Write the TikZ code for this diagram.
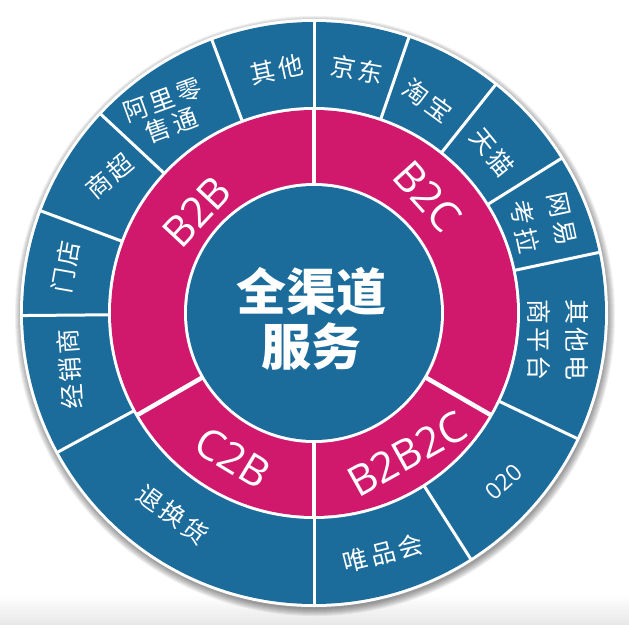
\documentclass[tikz,border=0pt]{standalone}
\usepackage{fontspec}
\usepackage{tikz}
\usetikzlibrary{calc,positioning}
\newfontfamily\cjk[LetterSpace=12]{Noto Sans CJK SC}
\newfontfamily\cjkhub{Noto Sans CJK SC}
\newfontfamily\latin{Open Sans}
\definecolor{chblue}{HTML}{1B6B9B}
\definecolor{chpink}{HTML}{D0196D}
\tikzstyle{outerlabel}=[
  text=white,
  font={\cjk\fontsize{25}{27}\selectfont},
  align=center,
  inner sep=0pt,
]
\tikzstyle{ringlabel}=[
  text=white,
  font={\latin\fontsize{42}{44}\selectfont},
  inner sep=0pt,
]
\tikzstyle{hublabel}=[
  text=white,
  font={\cjkhub\bfseries\fontsize{50}{55}\selectfont},
  align=center,
  inner sep=0pt,
]
\tikzstyle{divider}=[
  draw=white,
  line width=3pt,
]
\tikzstyle{ringdivider}=[
  draw=white,
  line width=4.5pt,
]

\begin{document}
\begin{tikzpicture}[x=1pt, y=1pt]
  \useasboundingbox (-314,-311) rectangle (315,313);
  \shade [top color=white, bottom color=black!9] (-314,-311) rectangle (315,-282);
  %% shadow and rings
  \foreach \s in {1,...,8}
    \fill [black, opacity=0.06] (1,-3) circle (292+\s);
  \coordinate (hub) at (0,0);
  \fill [white] (hub) circle (294);
  \fill [chblue] (hub) circle (291);
  \fill [white] (hub) circle (206);
  \fill [chpink] (hub) circle (203);
  \fill [white] (hub) circle (130);
  \fill [chblue] (hub) circle (127);
  %% dividers
  \foreach \a in {90,110.5,137,159.5,180.5,208.5,270,302.5,334.5,12,32,51.5,71}
    \draw [divider] (\a:204) -- (\a:292);
  \foreach \a in {90,210,270,330}
    \draw [ringdivider] (\a:128) -- (\a:205);
  %% labels
  \node (hubtext) [hublabel] at (-2,-6) {全渠道\\服务};
  \node (btob) [ringlabel, rotate=47] at (139.2:155) {B2B};
  \node (btoc) [ringlabel, rotate=-48] at (45.9:163) {B2C};
  \node (ctob) [ringlabel, rotate=-31] at (240.7:166) {C2B};
  \node (btobtoc) [ringlabel, rotate=29] at (303.5:169) {B2B2C};
  \foreach \a/\r/\rot/\name/\txt in {
      98.7/246/12/qita/其他,
      126.3/248/20/ali/{阿里零\\售通},
      146.3/246/40/shangchao/商超,
      169.5/252/80/mendian/门店,
      193/250/94/jingxiao/经销商,
      235/246/-36/tuihuan/退换货,
      286/250/14/weipin/唯品会,
      80/247/-10/jingdong/京东,
      61.8/241/-36/taobao/淘宝,
      42/240/-51/tianmao/天猫,
      21.5/246/-78/wangyi/{网易\\[11pt]考拉},
      -6.3/245/-90/qitads/{其他电\\[11pt]商平台}}
    \node (\name) [outerlabel, rotate=\rot] at (\a:\r) {\txt};
  \node (otwoo) [outerlabel, font={\latin\fontsize{23}{25}\selectfont}, rotate=42] at (318.3:254) {020};
\end{tikzpicture}
\end{document}
